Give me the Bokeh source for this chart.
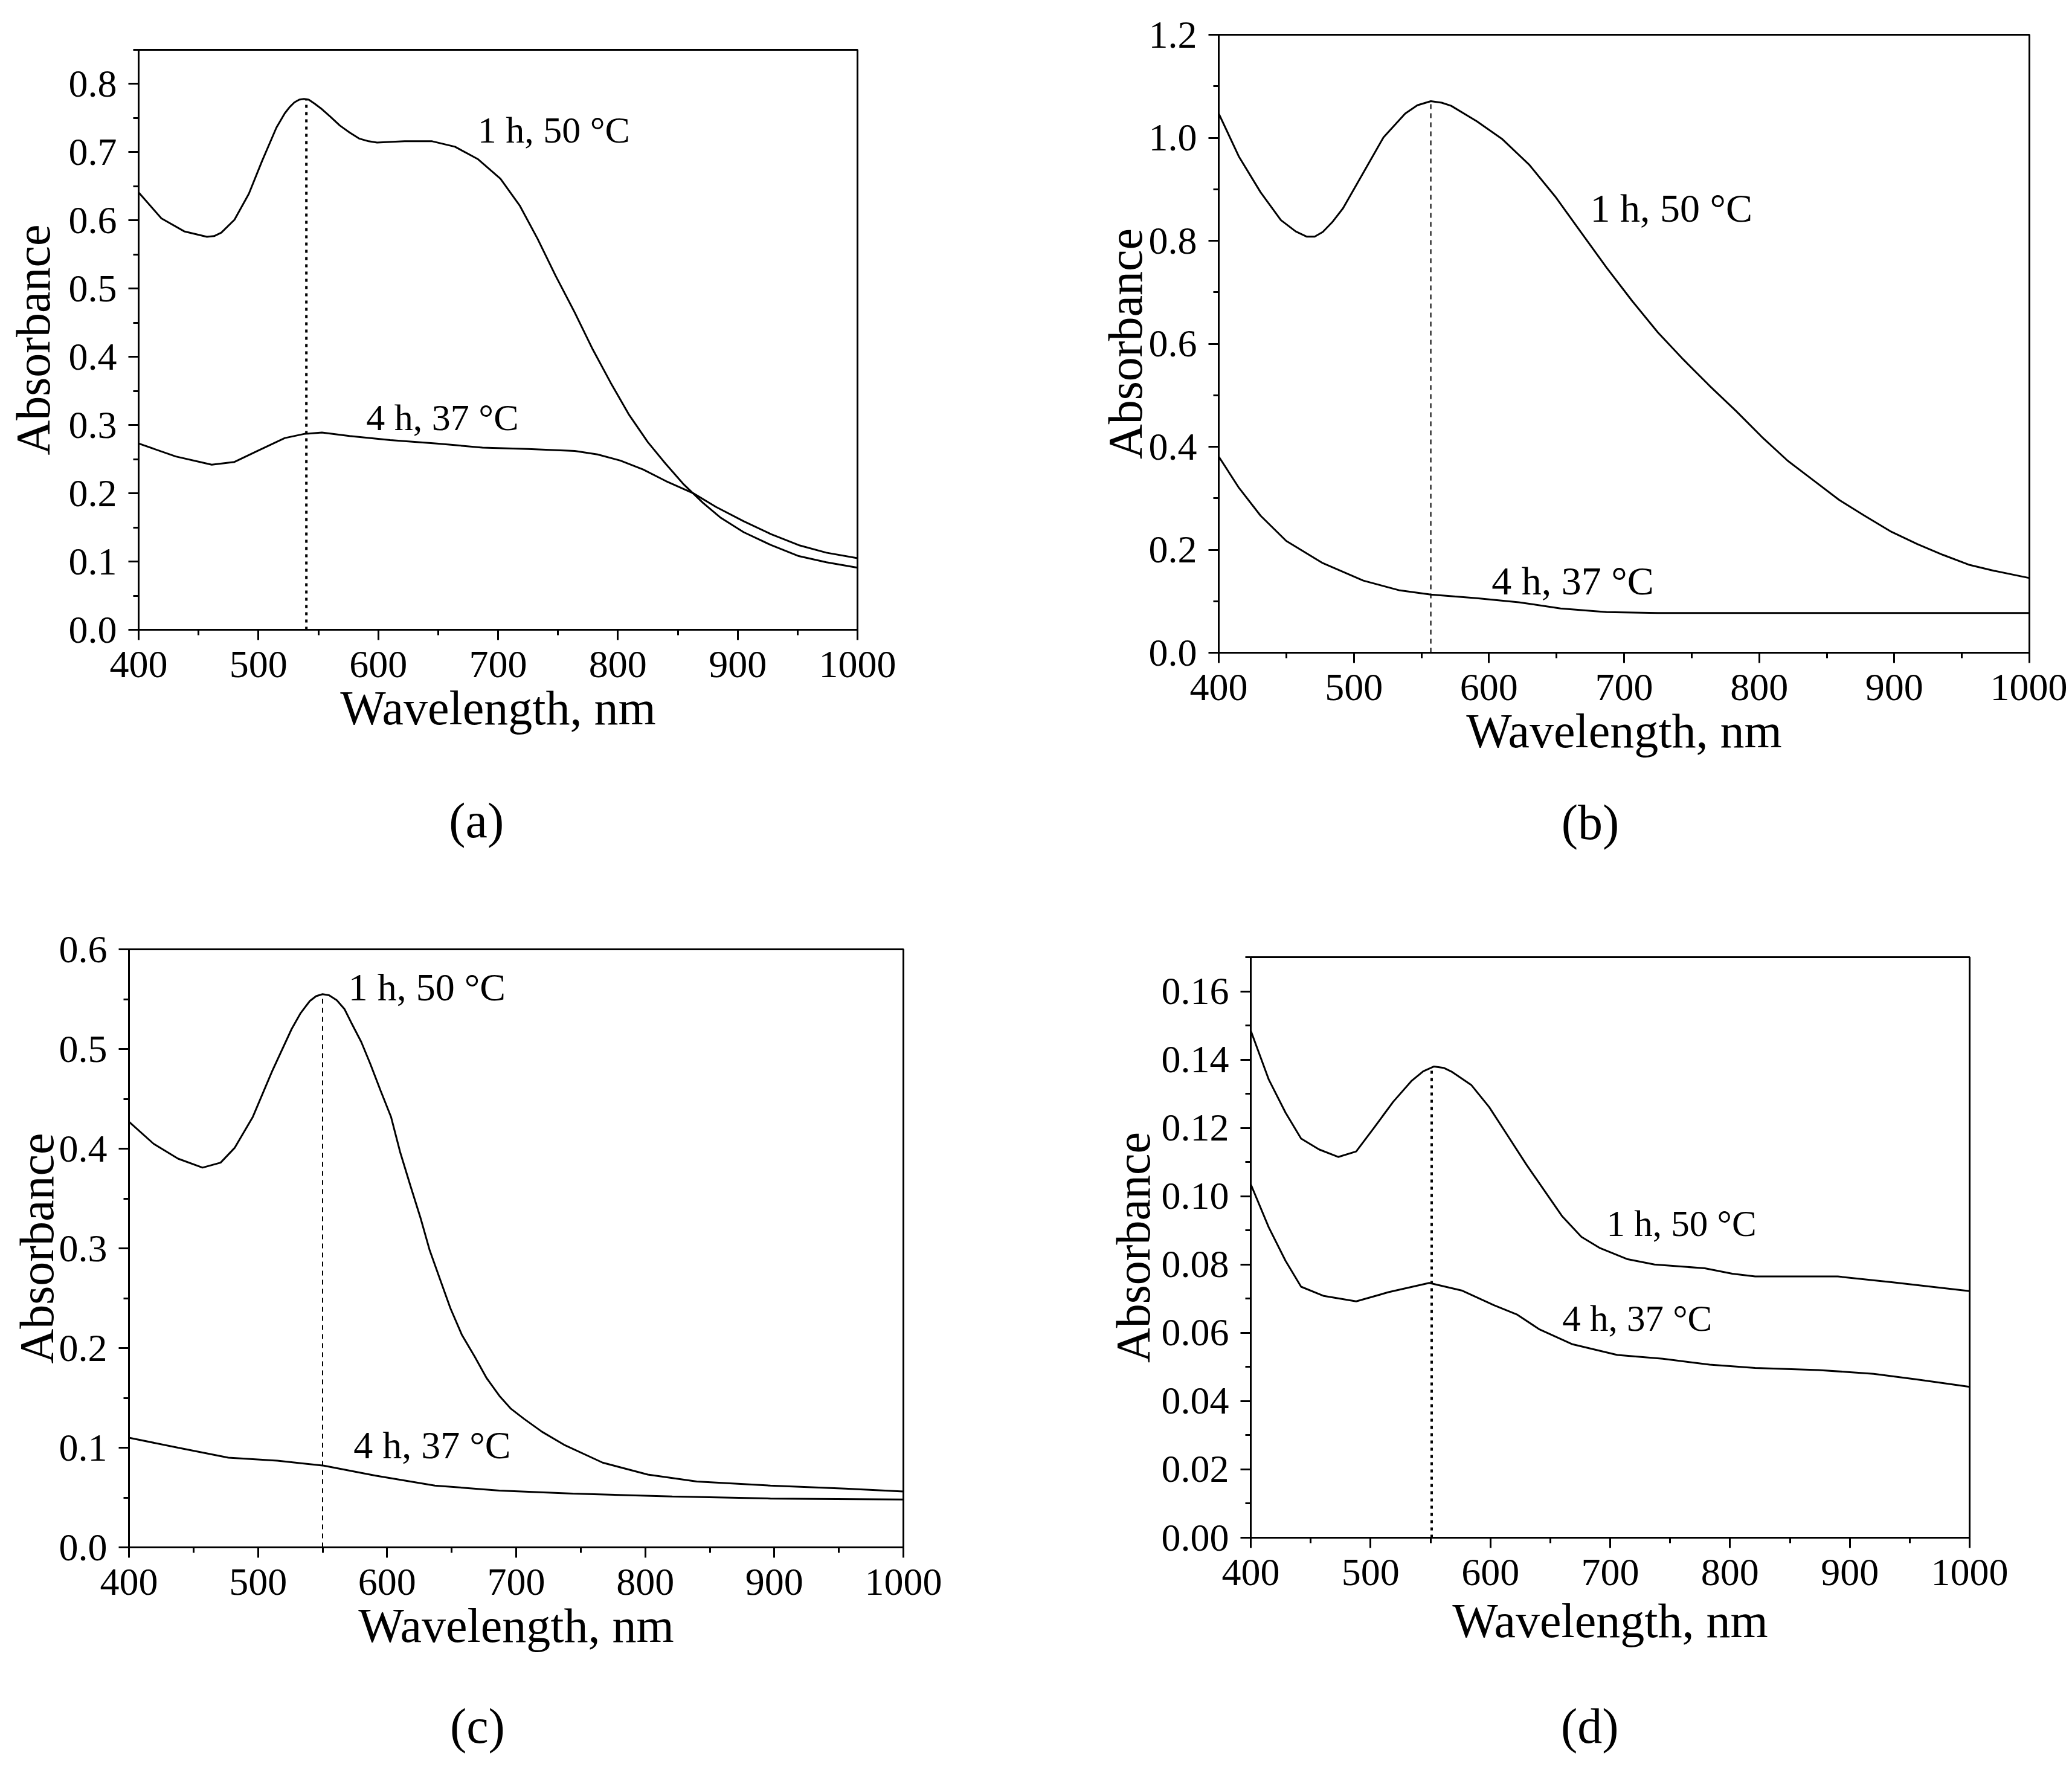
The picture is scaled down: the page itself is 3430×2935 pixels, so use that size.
from bokeh.plotting import figure
from bokeh.models import Range1d, FixedTicker, PrintfTickFormatter, Label, LinearAxis
from bokeh.layouts import column, row
from bokeh.embed import file_html
from bokeh.resources import INLINE

FONT = "Liberation Serif"
LBL_1H = "1 h, 50 °C"
LBL_4H = "4 h, 37 °C"

x_ticks = [400, 500, 600, 700, 800, 900, 1000]
x_minor = [450, 550, 650, 750, 850, 950]

# ---------------- panel (a) ----------------
a_wl_1h = [400, 419, 438, 457, 463, 469, 480, 492, 503, 515, 522, 526, 530, 534, 538, 542, 547, 553, 560, 568,
           576, 584, 592, 599, 622, 645, 664, 683, 702, 718, 733, 748, 764, 779, 794, 809, 825, 840, 855, 871,
           886, 905, 928, 951, 974, 1000]
a_abs_1h = [0.641, 0.603, 0.584, 0.576, 0.577, 0.582, 0.601, 0.639, 0.687, 0.736, 0.757, 0.766, 0.773, 0.777,
            0.778, 0.777, 0.771, 0.763, 0.752, 0.739, 0.729, 0.720, 0.716, 0.714, 0.716, 0.716, 0.708, 0.690,
            0.661, 0.622, 0.573, 0.519, 0.465, 0.411, 0.362, 0.316, 0.275, 0.243, 0.213, 0.186, 0.164, 0.143,
            0.124, 0.108, 0.099, 0.091]
a_wl_4h = [400, 431, 461, 480, 499, 522, 538, 553, 576, 610, 649, 687, 725, 764, 783, 802, 821, 840, 863, 882,
           905, 928, 951, 974, 1000]
a_abs_4h = [0.273, 0.254, 0.242, 0.246, 0.262, 0.281, 0.287, 0.289, 0.284, 0.278, 0.273, 0.267, 0.265, 0.262,
            0.257, 0.248, 0.235, 0.218, 0.200, 0.180, 0.159, 0.140, 0.124, 0.113, 0.105]
a_peak = [540, 0.777]
a_yticks = [0.0, 0.1, 0.2, 0.3, 0.4, 0.5, 0.6, 0.7, 0.8]
a_yminor = [0.05, 0.15, 0.25, 0.35, 0.45, 0.55, 0.65, 0.75, 0.85]
a_labels = [(683, 0.733, LBL_1H), (590, 0.311, LBL_4H)]
a_caption = ("(a)", 682)

# ---------------- panel (b) ----------------
b_wl_1h = [400, 415, 431, 446, 457, 465, 471, 477, 484, 492, 507, 522, 538, 547, 557, 565, 572, 591, 610, 630,
           649, 668, 687, 706, 725, 744, 763, 783, 802, 821, 840, 859, 878, 897, 917, 936, 955, 974, 1000]
b_abs_1h = [1.047, 0.963, 0.894, 0.840, 0.818, 0.808, 0.808, 0.817, 0.836, 0.863, 0.932, 1.001, 1.047, 1.063,
            1.071, 1.068, 1.062, 1.032, 0.997, 0.947, 0.886, 0.817, 0.748, 0.683, 0.622, 0.569, 0.519, 0.469,
            0.419, 0.373, 0.335, 0.297, 0.266, 0.236, 0.211, 0.190, 0.171, 0.159, 0.145]
b_wl_4h = [400, 415, 431, 450, 477, 507, 534, 557, 591, 622, 653, 687, 725, 783, 850, 1000]
b_abs_4h = [0.381, 0.320, 0.266, 0.217, 0.174, 0.140, 0.121, 0.113, 0.106, 0.098, 0.086, 0.079, 0.077, 0.077,
            0.077, 0.077]
b_peak = [557, 1.071]
b_yticks = [0.0, 0.2, 0.4, 0.6, 0.8, 1.0, 1.2]
b_yminor = [0.1, 0.3, 0.5, 0.7, 0.9, 1.1]
b_labels = [(675, 0.863, LBL_1H), (602, 0.140, LBL_4H)]
b_caption = ("(b)", 675)

# ---------------- panel (c) ----------------
c_wl_1h = [400, 419, 438, 457, 471, 482, 496, 511, 526, 533, 540, 545, 550, 555, 561, 567, 572, 580, 587, 595,
           603, 610, 618, 626, 633, 641, 649, 658, 668, 677, 687, 696, 706, 720, 737, 767, 802, 840, 897, 955,
           1000]
c_abs_1h = [0.427, 0.405, 0.390, 0.381, 0.386, 0.401, 0.432, 0.478, 0.520, 0.536, 0.548, 0.553, 0.555, 0.554,
            0.549, 0.540, 0.527, 0.507, 0.485, 0.458, 0.432, 0.397, 0.363, 0.330, 0.298, 0.269, 0.240, 0.213,
            0.191, 0.170, 0.152, 0.139, 0.129, 0.116, 0.103, 0.085, 0.073, 0.066, 0.062, 0.059, 0.056]
c_wl_4h = [400, 438, 477, 515, 551, 591, 637, 687, 744, 821, 897, 1000]
c_abs_4h = [0.110, 0.100, 0.090, 0.087, 0.082, 0.072, 0.062, 0.057, 0.054, 0.051, 0.049, 0.048]
c_peak = [550, 0.555]
c_yticks = [0.0, 0.1, 0.2, 0.3, 0.4, 0.5, 0.6]
c_yminor = [0.05, 0.15, 0.25, 0.35, 0.45, 0.55]
c_labels = [(570, 0.562, LBL_1H), (574, 0.1025, LBL_4H)]
c_caption = ("(c)", 670)

# ---------------- panel (d) ----------------
d_wl_1h = [400, 415, 429, 442, 457, 473, 488, 503, 519, 534, 544, 553, 561, 568, 584, 599, 614, 630, 645, 660,
           676, 691, 714, 737, 779, 802, 821, 890, 936, 1000]
d_abs_1h = [0.1485, 0.1342, 0.1245, 0.1169, 0.1137, 0.1115, 0.1131, 0.1201, 0.1277, 0.1337, 0.1366, 0.1380,
            0.1376, 0.1364, 0.1326, 0.1261, 0.1180, 0.1093, 0.1017, 0.0941, 0.0881, 0.0849, 0.0816, 0.0800,
            0.0789, 0.0773, 0.0765, 0.0765, 0.0748, 0.0722]
d_wl_4h = [400, 415, 429, 442, 461, 488, 515, 549, 576, 603, 622, 641, 668, 706, 744, 783, 821, 874, 920, 955,
           1000]
d_abs_4h = [0.1035, 0.0909, 0.0811, 0.0735, 0.0708, 0.0692, 0.0719, 0.0746, 0.0724, 0.0681, 0.0654, 0.0610,
            0.0567, 0.0535, 0.0524, 0.0507, 0.0497, 0.0491, 0.0480, 0.0464, 0.0442]
d_peak = [551, 0.138]
d_yticks = [0.00, 0.02, 0.04, 0.06, 0.08, 0.10, 0.12, 0.14, 0.16]
d_yminor = [0.01, 0.03, 0.05, 0.07, 0.09, 0.11, 0.13, 0.15, 0.17]
d_labels = [(697, 0.0919, LBL_1H), (660, 0.0643, LBL_4H)]
d_caption = ("(d)", 683)


def make_panel(caption, w, h, borders, ymax, yticks, yminor, yfmt,
               wl1, ab1, wl4, ab4, peak, labels, dash, dash_w, ylab_standoff, lbl_size,
               xlab_standoff, cap_standoff):
    L, R, T, B = borders
    p = figure(width=w, height=h, output_backend="svg", toolbar_location=None,
               x_range=Range1d(400, 1000), y_range=Range1d(0, ymax),
               min_border_left=L, min_border_right=R, min_border_top=T, min_border_bottom=B)
    p.background_fill_color = "white"
    p.border_fill_color = "white"
    p.grid.visible = False
    p.outline_line_color = "black"
    p.outline_line_width = 3
    p.outline_line_alpha = 1.0

    p.xaxis.ticker = FixedTicker(ticks=x_ticks, minor_ticks=x_minor)
    p.yaxis.ticker = FixedTicker(ticks=yticks, minor_ticks=yminor)
    p.yaxis.formatter = PrintfTickFormatter(format=yfmt)
    for ax in (p.xaxis, p.yaxis):
        ax.axis_line_width = 3
        ax.axis_line_color = "black"
        ax.major_tick_line_width = 3
        ax.minor_tick_line_width = 3
        ax.major_tick_line_color = "black"
        ax.minor_tick_line_color = "black"
        ax.major_tick_in = 0
        ax.major_tick_out = 17
        ax.minor_tick_in = 0
        ax.minor_tick_out = 9
        ax.major_label_text_font = FONT
        ax.major_label_text_font_size = "64px"
        ax.major_label_text_color = "black"
        ax.axis_label_text_font = FONT
        ax.axis_label_text_font_size = "80px"
        ax.axis_label_text_font_style = "normal"
        ax.axis_label_text_color = "black"
    p.xaxis.axis_label = "Wavelength, nm"
    p.yaxis.axis_label = "Absorbance"
    p.xaxis.major_label_standoff = 19
    p.xaxis.axis_label_standoff = xlab_standoff
    p.yaxis.major_label_standoff = 19
    p.yaxis.axis_label_standoff = ylab_standoff

    # panel caption "(a)".."(d)": an extra, line-less axis below the x axis whose single tick label is the caption
    cap_text, cap_x = caption
    cap_axis = LinearAxis(ticker=FixedTicker(ticks=[cap_x], minor_ticks=[]),
                          major_label_overrides={cap_x: cap_text},
                          axis_line_color=None, major_tick_line_color=None, minor_tick_line_color=None,
                          major_tick_in=0, major_tick_out=0, minor_tick_in=0, minor_tick_out=0,
                          major_label_standoff=cap_standoff,
                          major_label_text_font=FONT, major_label_text_font_size="82px",
                          major_label_text_color="black")
    p.add_layout(cap_axis, "below")

    p.line(wl1, ab1, line_color="black", line_width=3)
    p.line(wl4, ab4, line_color="black", line_width=3)
    p.segment(x0=[peak[0]], y0=[0], x1=[peak[0]], y1=[peak[1]],
              line_color="black", line_width=dash_w, line_dash=dash)

    for (lx, ly, txt) in labels:
        p.add_layout(Label(x=lx, y=ly, text=txt, text_font=FONT, text_font_size=lbl_size,
                           text_color="black", text_align="left", text_baseline="middle"))
    return p


pa = make_panel(a_caption, 1792, 1480, (229, 373, 82, 438), 0.85, a_yticks, a_yminor, "%.1f",
                a_wl_1h, a_abs_1h, a_wl_4h, a_abs_4h, a_peak, a_labels, "5 7", 4, 12, "62px", 4, 94)
pb = make_panel(b_caption, 1630, 1480, (225, 63, 57, 400), 1.2, b_yticks, b_yminor, "%.1f",
                b_wl_1h, b_abs_1h, b_wl_4h, b_abs_4h, b_peak, b_labels, "8 7", 2, -8, "66px", 4, 59)
pc = make_panel(c_caption, 1792, 1450, (213, 297, 91, 369), 0.6, c_yticks, c_yminor, "%.1f",
                c_wl_1h, c_abs_1h, c_wl_4h, c_abs_4h, c_peak, c_labels, "8 7", 2, -10, "64px", 4, 74)
pd_ = make_panel(d_caption, 1630, 1450, (278, 162, 104, 385), 0.17, d_yticks, d_yminor, "%.2f",
                 d_wl_1h, d_abs_1h, d_wl_4h, d_abs_4h, d_peak, d_labels, "5 7", 4, 0, "61px", 12, 82)

layout = column(row(column(pa), column(pb)), row(column(pc), column(pd_)))
open("out.html", "w").write(file_html(layout, INLINE))
